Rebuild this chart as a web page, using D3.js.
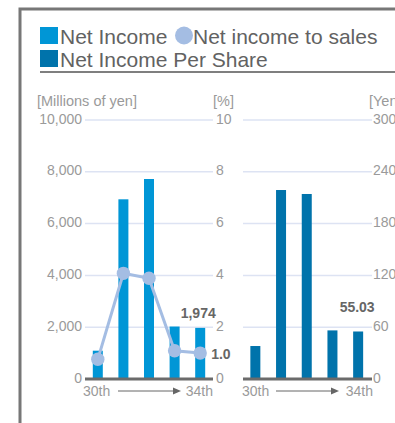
<!DOCTYPE html>
<html>
<head>
<meta charset="utf-8">
<script src="https://cdn.jsdelivr.net/npm/d3@7"></script>
<style>
  html, body { margin: 0; padding: 0; background: #fff; }
  svg { display: block; font-family: "Liberation Sans", Arial, sans-serif; }
</style>
</head>
<body>
<div id="chart"></div>
<script>
// Fiscal periods (30th through 34th)
const periods = ["30th", "31st", "32nd", "33rd", "34th"];
// Net income, millions of yen
const netIncome = [1093, 6938, 7722, 2026, 1974];
// Net income to sales, %
const incomeToSales = [0.76, 4.08, 3.89, 1.09, 1.0];
// Net income per share, yen
const incomePerShare = [38.2, 218.9, 214.3, 56.3, 55.03];

const yenTicks = [0, 2000, 4000, 6000, 8000, 10000];
const pctTicks = [0, 2, 4, 6, 8, 10];
const epsTicks = [0, 60, 120, 180, 240, 300];

const W = 395, H = 423;
const C1 = "#0096d6", C2 = "#0073ab", CL = "#a4bde3";
const GRID = "#dde3f3", LABEL = "#9a9a9a", DARK = "#666";

const svg = d3.select("#chart").append("svg").attr("width", W).attr("height", H);

// frame
svg.append("path").attr("d", `M20,${H} V9 H${W}`)
  .attr("fill", "none").attr("stroke", "#777").attr("stroke-width", 3);

// legend
const lg = svg.append("g").attr("font-size", 21).attr("fill", "#626262");
lg.append("rect").attr("x", 40).attr("y", 27).attr("width", 18).attr("height", 17).attr("fill", C1);
lg.append("text").attr("x", 60).attr("y", 44).text("Net Income");
lg.append("circle").attr("cx", 184).attr("cy", 35.5).attr("r", 9).attr("fill", CL);
lg.append("text").attr("x", 193).attr("y", 44).text("Net income to sales");
lg.append("rect").attr("x", 40).attr("y", 50).attr("width", 18).attr("height", 17).attr("fill", C2);
lg.append("text").attr("x", 60).attr("y", 67).text("Net Income Per Share");
svg.append("line").attr("x1", 40).attr("x2", W).attr("y1", 72).attr("y2", 72)
  .attr("stroke", "#555").attr("stroke-width", 1.5);

// shared vertical extent
const yTop = 120, yBot = 379;
const yYen = d3.scaleLinear().domain([0, 10000]).range([yBot, yTop]);
const yPct = d3.scaleLinear().domain([0, 10]).range([yBot, yTop]);
const yEps = d3.scaleLinear().domain([0, 300]).range([yBot, yTop]);

const x1 = d3.scalePoint().domain(periods).range([85, 213]).padding(0.5);
const x2 = d3.scalePoint().domain(periods).range([242.5, 371]).padding(0.5);
const barW = 10;

function grid(x0, x1e, scale, ticks) {
  svg.append("g").selectAll("line").data(ticks.slice(1)).join("line")
    .attr("x1", x0).attr("x2", x1e)
    .attr("y1", d => scale(d)).attr("y2", d => scale(d))
    .attr("stroke", GRID).attr("stroke-width", 1.5);
}
function styleAxis(g) {
  g.select(".domain").remove();
  g.selectAll("text").attr("fill", LABEL).attr("font-size", 14)
    .attr("font-family", "Liberation Sans, Arial, sans-serif").attr("dy", 3);
}
function baseline(a, b) {
  svg.append("line").attr("x1", a).attr("x2", b).attr("y1", yBot).attr("y2", yBot)
    .attr("stroke", "#6b6b6b").attr("stroke-width", 3);
}
function periodAxis(x0, x1e, arrowA, arrowB) {
  const g = svg.append("g").attr("font-size", 14).attr("fill", LABEL);
  g.append("text").attr("x", x0).attr("y", 396).text(periods[0]);
  g.append("text").attr("x", x1e).attr("y", 396).attr("text-anchor", "end").text(periods[periods.length - 1]);
  g.append("line").attr("x1", arrowA).attr("x2", arrowB - 6).attr("y1", 391).attr("y2", 391)
    .attr("stroke", DARK).attr("stroke-width", 1);
  g.append("path").attr("d", `M${arrowB},391 L${arrowB - 8},387.5 L${arrowB - 8},394.5 Z`).attr("fill", DARK);
}

// chart 1: net income + ratio
grid(85, 213, yYen, yYen.ticks(5));
svg.append("g").attr("transform", "translate(85,0)")
  .call(d3.axisLeft(yYen).tickValues(yenTicks).tickSize(0).tickPadding(3).tickFormat(d3.format(",")))
  .call(styleAxis);
svg.append("g").attr("transform", "translate(213,0)")
  .call(d3.axisRight(yPct).tickValues(pctTicks).tickSize(0).tickPadding(3))
  .call(styleAxis);

svg.append("g").selectAll("rect").data(netIncome).join("rect")
  .attr("x", (d, i) => x1(periods[i]) - barW / 2).attr("width", barW)
  .attr("y", d => yYen(d)).attr("height", d => yBot - yYen(d)).attr("fill", C1);
baseline(85, 213);

const line = d3.line().x((d, i) => x1(periods[i])).y(d => yPct(d));
svg.append("path").datum(incomeToSales).attr("d", line)
  .attr("fill", "none").attr("stroke", CL).attr("stroke-width", 3);
svg.append("g").selectAll("circle").data(incomeToSales).join("circle")
  .attr("cx", (d, i) => x1(periods[i])).attr("cy", d => yPct(d)).attr("r", 6.7).attr("fill", CL);

const last = periods.length - 1;
svg.append("text").attr("x", x1(periods[last]) - 2).attr("y", yYen(netIncome[last]) - 10)
  .attr("text-anchor", "middle").attr("font-size", 14).attr("font-weight", "bold").attr("fill", DARK)
  .text(d3.format(",")(netIncome[last]));
svg.append("text").attr("x", x1(periods[last]) + 11).attr("y", yPct(incomeToSales[last]) + 6)
  .attr("font-size", 14).attr("font-weight", "bold").attr("fill", DARK)
  .text(d3.format(".1f")(incomeToSales[last]));

periodAxis(83, 213, 118, 181);

// chart 2: per share
grid(243, 372, yEps, epsTicks);
svg.append("g").attr("transform", "translate(372,0)")
  .call(d3.axisRight(yEps).tickValues(epsTicks).tickSize(0).tickPadding(1))
  .call(styleAxis);
svg.append("g").selectAll("rect").data(incomePerShare).join("rect")
  .attr("x", (d, i) => x2(periods[i]) - barW / 2).attr("width", barW)
  .attr("y", d => yEps(d)).attr("height", d => yBot - yEps(d)).attr("fill", C2);
baseline(243, 372);
svg.append("text").attr("x", x2(periods[last]) - 1).attr("y", yEps(incomePerShare[last]) - 19)
  .attr("text-anchor", "middle").attr("font-size", 14).attr("font-weight", "bold").attr("fill", DARK)
  .text(d3.format(".2f")(incomePerShare[last]));
periodAxis(242, 373, 276, 339);

// unit captions
const cap = svg.append("g").attr("font-size", 14.5).attr("fill", LABEL);
cap.append("text").attr("x", 37).attr("y", 106).text("[Millions of yen]");
cap.append("text").attr("x", 213).attr("y", 106).text("[%]");
cap.append("text").attr("x", 369).attr("y", 106).text("[Yen]");
</script>
</body>
</html>
